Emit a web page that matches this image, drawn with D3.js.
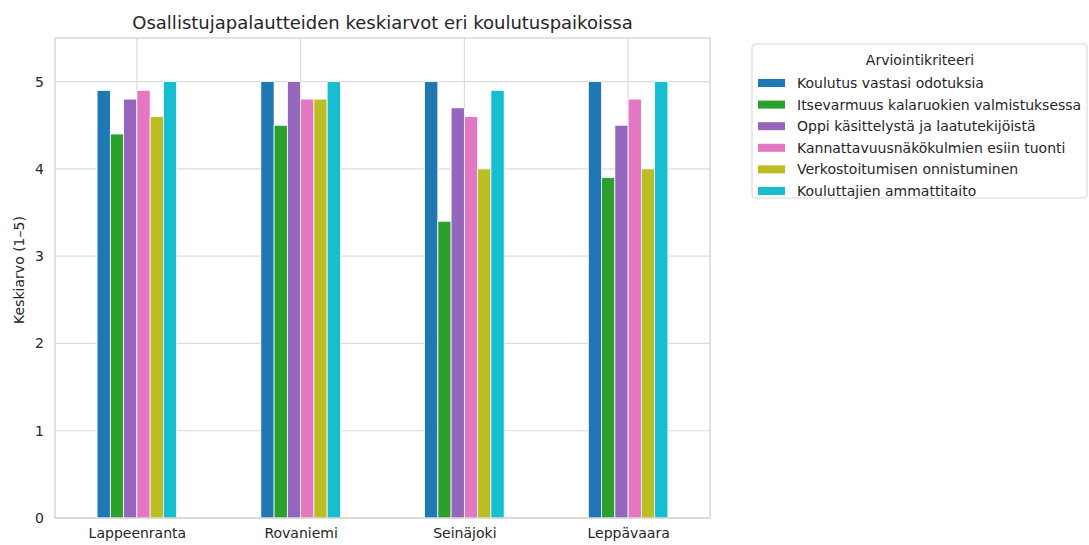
<!DOCTYPE html>
<html>
<head>
<meta charset="utf-8">
<script src="https://cdn.jsdelivr.net/npm/d3@7"></script>
<style>
  body { margin: 0; background: #fff; }
  text { font-family: "DejaVu Sans", sans-serif; fill: #262626; }
</style>
</head>
<body>
<script>
// categories (training locations)
var places = ["Lappeenranta", "Rovaniemi", "Seinäjoki", "Leppävaara"];

// criteria = series
var criteria = [
  "Koulutus vastasi odotuksia",
  "Itsevarmuus kalaruokien valmistuksessa",
  "Oppi käsittelystä ja laatutekijöistä",
  "Kannattavuusnäkökulmien esiin tuonti",
  "Verkostoitumisen onnistuminen",
  "Kouluttajien ammattitaito"
];

// one array per criterion, values per place
var odotukset        = [4.9, 5.0, 5.0, 5.0];
var itsevarmuus      = [4.4, 4.5, 3.4, 3.9];
var kasittely        = [4.8, 5.0, 4.7, 4.5];
var kannattavuus     = [4.9, 4.8, 4.6, 4.8];
var verkostoituminen = [4.6, 4.8, 4.0, 4.0];
var ammattitaito     = [5.0, 5.0, 4.9, 5.0];

var yTicks = [0, 1, 2, 3, 4, 5];

var colors = ["#1f77b4", "#2ca02c", "#9467bd", "#e377c2", "#bcbd22", "#17becf"];

var seriesValues = [odotukset, itsevarmuus, kasittely, kannattavuus, verkostoituminen, ammattitaito];

// flatten to one record per bar
var bars = [];
criteria.forEach(function(c, si) {
  places.forEach(function(p, pi) {
    bars.push({ place: p, series: si, value: seriesValues[si][pi] });
  });
});

var W = 1089, H = 545;
var margin = { top: 38, left: 55 },
    width = 710 - 55,
    height = 518 - 38;

var svg = d3.select("body").append("svg")
    .attr("width", W)
    .attr("height", H);

var g = svg.append("g")
    .attr("transform", "translate(" + margin.left + "," + margin.top + ")");

// x as linear over category index, xlim -0.5 .. 3.5 like matplotlib
var x = d3.scaleLinear().domain([-0.5, places.length - 0.5]).range([0, width]);
var y = d3.scaleLinear().domain([0, 5.5]).range([height, 0]);

var barW = 0.081; // in category units
var groupW = barW * criteria.length;

// grid lines
g.append("g")
    .selectAll("line.hgrid")
    .data(yTicks)
  .enter().append("line")
    .attr("x1", 0).attr("x2", width)
    .attr("y1", function(d) { return y(d); })
    .attr("y2", function(d) { return y(d); })
    .attr("stroke", "#dcdcdc")
    .attr("stroke-width", 1.2);

g.append("g")
    .selectAll("line.vgrid")
    .data(places)
  .enter().append("line")
    .attr("x1", function(d, i) { return x(i); })
    .attr("x2", function(d, i) { return x(i); })
    .attr("y1", 0).attr("y2", height)
    .attr("stroke", "#dcdcdc")
    .attr("stroke-width", 1.2);

// bars
g.selectAll(".bar")
    .data(bars)
  .enter().append("rect")
    .attr("class", "bar")
    .attr("x", function(d) { return x(places.indexOf(d.place) - groupW / 2 + d.series * barW); })
    .attr("width", x(barW) - x(0))
    .attr("y", function(d) { return y(d.value); })
    .attr("height", function(d) { return height - y(d.value); })
    .attr("fill", function(d) { return colors[d.series]; })
    .attr("stroke", "#fff")
    .attr("stroke-width", 0.8);

// frame
g.append("rect")
    .attr("width", width).attr("height", height)
    .attr("fill", "none")
    .attr("stroke", "#cfcfcf")
    .attr("stroke-width", 1.2);

// axes (text only, no tick marks)
var yAxis = g.append("g")
    .call(d3.axisLeft(y).tickValues(yTicks).tickFormat(d3.format("d")).tickSize(0).tickPadding(11));
yAxis.select(".domain").remove();
yAxis.selectAll("text").style("font-size", "14px").attr("fill", "#262626");

var xAxis = g.append("g")
    .attr("transform", "translate(0," + height + ")")
    .call(d3.axisBottom(x).tickValues(d3.range(places.length))
      .tickFormat(function(i) { return places[i]; })
      .tickSize(0).tickPadding(10));
xAxis.select(".domain").remove();
xAxis.selectAll("text").style("font-size", "14px").attr("fill", "#262626");

// title
svg.append("text")
    .attr("x", margin.left + width / 2)
    .attr("y", 29)
    .attr("text-anchor", "middle")
    .style("font-size", "18px")
    .text("Osallistujapalautteiden keskiarvot eri koulutuspaikoissa");

// y label
svg.append("text")
    .attr("transform", "translate(24," + (margin.top + height / 2 - 8) + ") rotate(-90)")
    .attr("text-anchor", "middle")
    .style("font-size", "14px")
    .text("Keskiarvo (1–5)");

// legend
var legend = svg.append("g").attr("transform", "translate(752,44)");
legend.append("rect")
    .attr("width", 335).attr("height", 154)
    .attr("rx", 3)
    .attr("fill", "#fff")
    .attr("stroke", "#d6d6d6");
legend.append("text")
    .attr("x", 168).attr("y", 21)
    .attr("text-anchor", "middle")
    .style("font-size", "14px")
    .text("Arviointikriteeri");

var item = legend.selectAll(".item")
    .data(criteria)
  .enter().append("g")
    .attr("class", "item")
    .attr("transform", function(d, i) { return "translate(0," + (35 + i * 21.6) + ")"; });
item.append("rect")
    .attr("x", 6).attr("width", 27).attr("height", 8)
    .attr("fill", function(d, i) { return colors[i]; });
item.append("text")
    .attr("x", 45).attr("y", 9)
    .style("font-size", "14px")
    .text(function(d) { return d; });
</script>
</body>
</html>
